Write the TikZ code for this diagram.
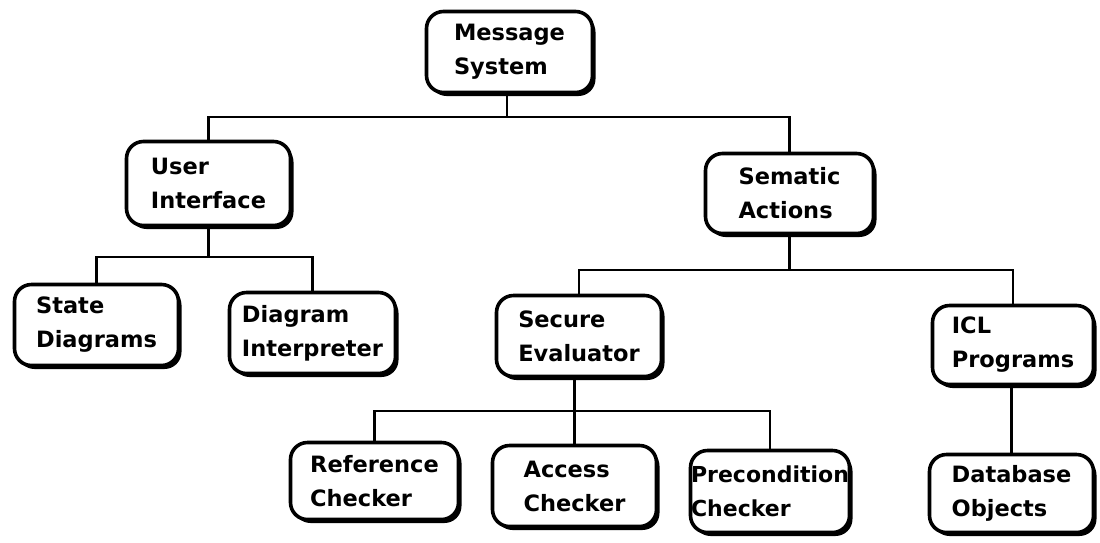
\documentclass[tikz,border=0pt]{standalone}
\usepackage{fontspec}
\setmainfont{DejaVu Sans}
\usetikzlibrary{shadows}
\begin{document}
\begin{tikzpicture}[x=1pt,y=-1pt,
  box/.style={draw=black, fill=white, line width=3.6pt, rounded corners=17pt,
    align=left, inner sep=0pt,
    font=\fontsize{22.5}{34}\selectfont\bfseries,
    drop shadow={shadow xshift=3pt, shadow yshift=-3.5pt, fill=black, opacity=1}},
  conn/.style={draw=black, line width=2.9pt}]
\useasboundingbox (0,0) rectangle (1100,542);
\fill[white] (0,0) rectangle (1100,542);

\node[box, minimum width=166pt, minimum height=81pt] (msg) at (509.5,52) {Message\\System};
\node[box, minimum width=164pt, minimum height=84pt] (ui)  at (208.5,183.5) {User\\Interface};
\node[box, minimum width=168pt, minimum height=80pt] (sa)  at (789.5,193.5) {Sematic\\Actions};
\node[box, minimum width=164pt, minimum height=81pt] (sd)  at (96.5,325) {State\\Diagrams};
\node[box, minimum width=166pt, minimum height=81pt] (di)  at (312.5,333) {Diagram\\Interpreter};
\node[box, minimum width=165pt, minimum height=81pt] (se)  at (579,336) {Secure\\Evaluator};
\node[box, minimum width=161pt, minimum height=79pt] (icl) at (1013,345) {ICL\\Programs};
\node[box, minimum width=168pt, minimum height=77pt] (rc)  at (374.5,481) {Reference\\Checker};
\node[box, minimum width=164pt, minimum height=81pt] (ac)  at (574.5,486) {Access\\Checker};
\node[box, minimum width=159pt, minimum height=82pt, font=\fontsize{22}{34}\selectfont\bfseries] (pc)  at (770,491.5) {Precondition\\Checker};
\node[box, minimum width=164pt, minimum height=78pt] (db)  at (1011.5,493.5) {Database\\Objects};

\coordinate (b1) at (507,117);
\coordinate (b2) at (207,257);
\coordinate (b3) at (789,270);
\coordinate (b4) at (576,411);

\draw[conn] (msg.south -| b1) -- (b1);
\draw[conn] (ui.north) |- (b1) -| (sa.north);
\draw[conn] (ui.south) -- (ui.south |- b2);
\draw[conn] (sd.north) |- (b2) -| (di.north);
\draw[conn] (sa.south) -- (sa.south |- b3);
\draw[conn] (se.north) |- (b3) -| (icl.north);
\draw[conn] (ac.north) -- (ac.north |- se.south);
\draw[conn] (rc.north) |- (b4) -| (pc.north);
\draw[conn] (db.north) -- (db.north |- icl.south);
\end{tikzpicture}
\end{document}
